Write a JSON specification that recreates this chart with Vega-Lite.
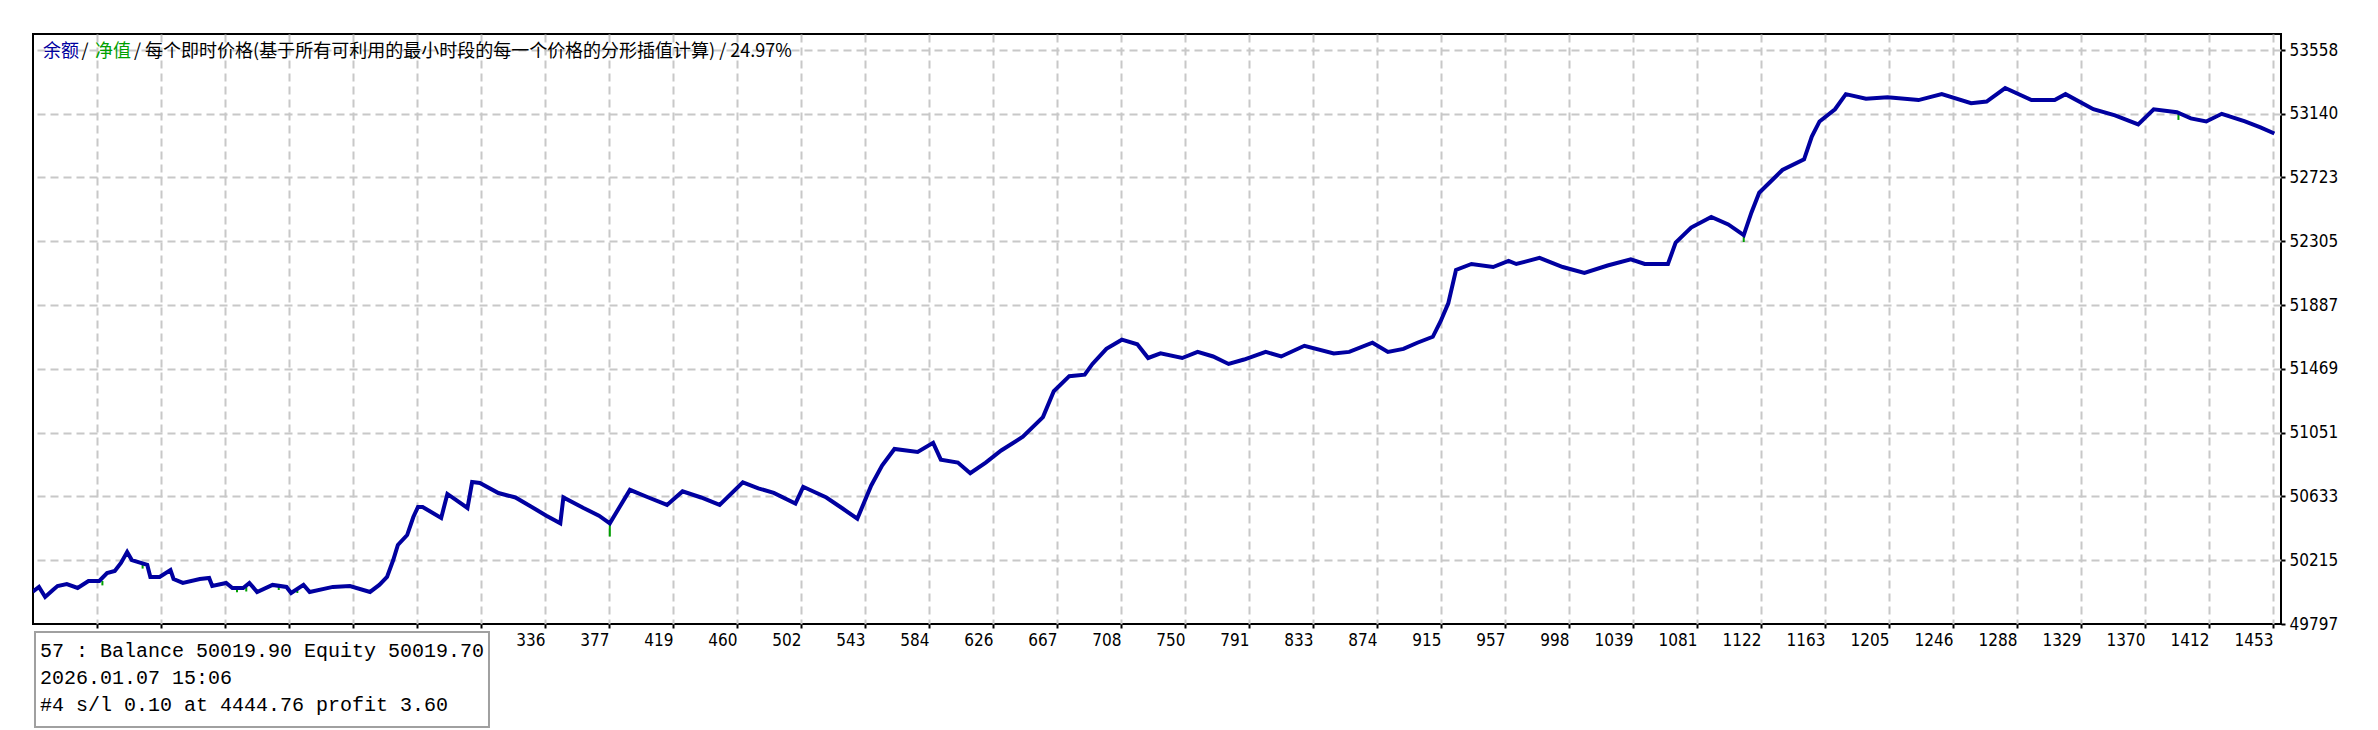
{
  "$schema": "https://vega.github.io/schema/vega-lite/v6.json",
  "width": 2248,
  "height": 590,
  "autosize": {"type": "none"},
  "padding": {"left": 33, "top": 34, "right": 97, "bottom": 106},
  "background": "white",
  "config": {
    "view": {"stroke": "#000000", "strokeWidth": 2, "fill": "white"},
    "axis": {
      "domain": false,
      "grid": true,
      "gridColor": "#c8c8c8",
      "gridDash": [8, 5],
      "gridWidth": 2,
      "tickColor": "#000000",
      "tickWidth": 2,
      "tickSize": 4,
      "labelColor": "#000000",
      "labelFont": "DejaVu Sans Condensed, Liberation Sans Narrow, Liberation Sans",
      "labelFontSize": 17,
      "title": null,
      "zindex": 0
    }
  },
  "datasets": {
    "balance": [
      {"i": 5, "b": 50009}, {"i": 9, "b": 50040}, {"i": 13, "b": 49974}, {"i": 18, "b": 50020},
      {"i": 21, "b": 50046}, {"i": 27, "b": 50059}, {"i": 34, "b": 50033}, {"i": 41, "b": 50079},
      {"i": 48, "b": 50079}, {"i": 53, "b": 50131}, {"i": 58, "b": 50144}, {"i": 62, "b": 50197},
      {"i": 66, "b": 50269}, {"i": 69, "b": 50216}, {"i": 79, "b": 50184}, {"i": 81, "b": 50105},
      {"i": 87, "b": 50105}, {"i": 94, "b": 50151}, {"i": 96, "b": 50092}, {"i": 102, "b": 50066},
      {"i": 113, "b": 50092}, {"i": 119, "b": 50099}, {"i": 121, "b": 50046}, {"i": 130, "b": 50066},
      {"i": 134, "b": 50033}, {"i": 141, "b": 50033}, {"i": 145, "b": 50066}, {"i": 150, "b": 50007},
      {"i": 160, "b": 50053}, {"i": 169, "b": 50040}, {"i": 172, "b": 50000}, {"i": 180, "b": 50053},
      {"i": 184, "b": 50007}, {"i": 199, "b": 50040}, {"i": 210, "b": 50046}, {"i": 223, "b": 50007},
      {"i": 229, "b": 50053}, {"i": 234, "b": 50105}, {"i": 238, "b": 50216}, {"i": 241, "b": 50315},
      {"i": 247, "b": 50380}, {"i": 251, "b": 50498}, {"i": 254, "b": 50564}, {"i": 257, "b": 50564},
      {"i": 269, "b": 50492}, {"i": 273, "b": 50649}, {"i": 286, "b": 50557}, {"i": 289, "b": 50727},
      {"i": 294, "b": 50721}, {"i": 306, "b": 50655}, {"i": 317, "b": 50626}, {"i": 327, "b": 50567},
      {"i": 337, "b": 50507}, {"i": 346, "b": 50457}, {"i": 348, "b": 50626}, {"i": 361, "b": 50557},
      {"i": 371, "b": 50507}, {"i": 378, "b": 50457}, {"i": 391, "b": 50676}, {"i": 403, "b": 50626},
      {"i": 415, "b": 50577}, {"i": 425, "b": 50666}, {"i": 437, "b": 50626}, {"i": 449, "b": 50577},
      {"i": 464, "b": 50725}, {"i": 474, "b": 50686}, {"i": 484, "b": 50656}, {"i": 498, "b": 50586},
      {"i": 503, "b": 50696}, {"i": 518, "b": 50626}, {"i": 528, "b": 50557}, {"i": 538, "b": 50487},
      {"i": 547, "b": 50705}, {"i": 554, "b": 50835}, {"i": 562, "b": 50944}, {"i": 577, "b": 50924},
      {"i": 587, "b": 50984}, {"i": 592, "b": 50874}, {"i": 603, "b": 50855}, {"i": 611, "b": 50785},
      {"i": 621, "b": 50855}, {"i": 631, "b": 50934}, {"i": 645, "b": 51024}, {"i": 658, "b": 51153},
      {"i": 665, "b": 51322}, {"i": 675, "b": 51421}, {"i": 685, "b": 51431}, {"i": 690, "b": 51501},
      {"i": 699, "b": 51600}, {"i": 709, "b": 51660}, {"i": 719, "b": 51630}, {"i": 726, "b": 51540},
      {"i": 734, "b": 51570}, {"i": 748, "b": 51540}, {"i": 758, "b": 51580}, {"i": 768, "b": 51550},
      {"i": 778, "b": 51501}, {"i": 788, "b": 51530}, {"i": 802, "b": 51580}, {"i": 812, "b": 51550},
      {"i": 827, "b": 51620}, {"i": 846, "b": 51570}, {"i": 856, "b": 51580}, {"i": 871, "b": 51640},
      {"i": 881, "b": 51580}, {"i": 891, "b": 51600}, {"i": 900, "b": 51640}, {"i": 910, "b": 51679},
      {"i": 915, "b": 51779}, {"i": 920, "b": 51898}, {"i": 925, "b": 52117}, {"i": 935, "b": 52156},
      {"i": 949, "b": 52136}, {"i": 959, "b": 52176}, {"i": 964, "b": 52156}, {"i": 979, "b": 52196},
      {"i": 994, "b": 52136}, {"i": 1008, "b": 52097}, {"i": 1023, "b": 52146}, {"i": 1038, "b": 52186},
      {"i": 1047, "b": 52156}, {"i": 1062, "b": 52156}, {"i": 1067, "b": 52296}, {"i": 1077, "b": 52395},
      {"i": 1090, "b": 52464}, {"i": 1101, "b": 52415}, {"i": 1111, "b": 52345}, {"i": 1116, "b": 52494},
      {"i": 1121, "b": 52623}, {"i": 1136, "b": 52772}, {"i": 1150, "b": 52842}, {"i": 1155, "b": 52991},
      {"i": 1160, "b": 53090}, {"i": 1170, "b": 53170}, {"i": 1177, "b": 53269}, {"i": 1190, "b": 53239},
      {"i": 1204, "b": 53249}, {"i": 1224, "b": 53230}, {"i": 1239, "b": 53269}, {"i": 1258, "b": 53210},
      {"i": 1268, "b": 53220}, {"i": 1280, "b": 53309}, {"i": 1297, "b": 53230}, {"i": 1312, "b": 53230},
      {"i": 1319, "b": 53269}, {"i": 1337, "b": 53170}, {"i": 1351, "b": 53130}, {"i": 1366, "b": 53071},
      {"i": 1376, "b": 53170}, {"i": 1391, "b": 53150}, {"i": 1400, "b": 53110}, {"i": 1410, "b": 53090},
      {"i": 1420, "b": 53140}, {"i": 1435, "b": 53090}, {"i": 1445, "b": 53051}, {"i": 1454, "b": 53011}
    ],
    "equityDips": [
      {"i": 50, "hi": 50079, "lo": 50050}, {"i": 76, "hi": 50184, "lo": 50160},
      {"i": 137, "hi": 50033, "lo": 50005}, {"i": 143, "hi": 50040, "lo": 50010},
      {"i": 164, "hi": 50053, "lo": 50020}, {"i": 176, "hi": 50030, "lo": 50000},
      {"i": 378, "hi": 50457, "lo": 50370}, {"i": 1111, "hi": 52345, "lo": 52300},
      {"i": 1392, "hi": 53150, "lo": 53100}
    ]
  },
  "layer": [
    {
      "data": {"name": "equityDips"},
      "mark": {"type": "rule", "color": "#00a000", "strokeWidth": 2},
      "encoding": {
        "x": {
          "field": "i", "type": "quantitative",
          "scale": {"domain": [5.14, 1458.3], "nice": false, "zero": false},
          "axis": {
            "orient": "bottom",
            "values": [46.51, 87.88, 129.25, 170.62, 211.99, 253.36, 294.73, 336.08, 377.45, 418.82, 460.19, 501.56, 542.93, 584.3, 625.67, 667.04, 708.41, 749.78, 791.15, 832.52, 873.89, 915.26, 956.63, 998.0, 1039.37, 1080.74, 1122.11, 1163.48, 1204.85, 1246.22, 1287.59, 1328.96, 1370.33, 1411.7, 1453.07],
            "labelExpr": "datum.value < 300 ? '' : '' + round(datum.value)",
            "labelAlign": "right",
            "labelDx": -3,
            "labelPadding": 4,
            "labelBaseline": "top",
            "labelOverlap": false,
            "labelFlush": false
          }
        },
        "y": {
          "field": "hi", "type": "quantitative",
          "scale": {"domain": [49797, 53663], "nice": false, "zero": false},
          "axis": {
            "orient": "right",
            "values": [49797, 50215, 50633, 51051, 51469, 51887, 52305, 52723, 53140, 53558],
            "format": "d",
            "labelAlign": "left",
            "labelBaseline": "middle",
            "labelPadding": 4,
            "labelOverlap": false,
            "labelFlush": false,
            "gridOpacity": {"condition": {"test": "datum.value < 49800", "value": 0}, "value": 1}
          }
        },
        "y2": {"field": "lo"}
      }
    },
    {
      "data": {"name": "balance"},
      "mark": {"type": "line", "color": "#0000a0", "strokeWidth": 4, "clip": true},
      "encoding": {
        "x": {"field": "i", "type": "quantitative"},
        "y": {"field": "b", "type": "quantitative"}
      }
    },
    {
      "data": {"values": [{"t": "余额", "i": 11.6, "v": 53545}]},
      "mark": {"type": "text", "color": "#0000a0", "align": "left", "baseline": "middle", "font": "Noto Sans CJK SC", "fontSize": 18},
      "encoding": {"x": {"field": "i", "type": "quantitative"}, "y": {"field": "v", "type": "quantitative"}, "text": {"field": "t"}}
    },
    {
      "data": {"values": [{"t": "/", "i": 36.5, "v": 53545}, {"t": "/ 每个即时价格(基于所有可利用的最小时段的每一个价格的分形插值计算) / 24.97%", "i": 70.4, "v": 53545}]},
      "mark": {"type": "text", "color": "#000000", "align": "left", "baseline": "middle", "font": "Noto Sans CJK SC", "fontSize": 18},
      "encoding": {"x": {"field": "i", "type": "quantitative"}, "y": {"field": "v", "type": "quantitative"}, "text": {"field": "t"}}
    },
    {
      "data": {"values": [{"t": "净值", "i": 45.2, "v": 53545}]},
      "mark": {"type": "text", "color": "#00a000", "align": "left", "baseline": "middle", "font": "Noto Sans CJK SC", "fontSize": 18},
      "encoding": {"x": {"field": "i", "type": "quantitative"}, "y": {"field": "v", "type": "quantitative"}, "text": {"field": "t"}}
    },
    {
      "data": {"values": [{"x1": 6.43, "x2": 299.9, "y1": 49744.6, "y2": 49122.1}]},
      "mark": {"type": "rect", "fill": "#ffffff", "stroke": "#a0a0a0", "strokeWidth": 2, "clip": false},
      "encoding": {
        "x": {"field": "x1", "type": "quantitative"}, "x2": {"field": "x2"},
        "y": {"field": "y1", "type": "quantitative"}, "y2": {"field": "y2"}
      }
    },
    {
      "data": {"values": [
        {"t": "57 : Balance 50019.90 Equity 50019.70", "i": 9.7, "v": 49620.1},
        {"t": "2026.01.07 15:06", "i": 9.7, "v": 49443.2},
        {"t": "#4 s/l 0.10 at 4444.76 profit 3.60", "i": 9.7, "v": 49266.3}
      ]},
      "mark": {"type": "text", "color": "#000000", "align": "left", "baseline": "middle", "font": "Liberation Mono", "fontSize": 20, "clip": false},
      "encoding": {"x": {"field": "i", "type": "quantitative"}, "y": {"field": "v", "type": "quantitative"}, "text": {"field": "t"}}
    }
  ]
}
